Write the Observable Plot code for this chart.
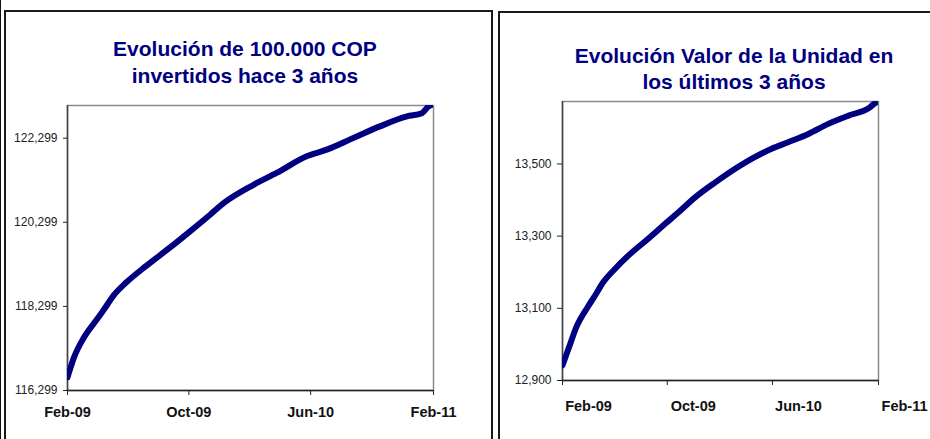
<!DOCTYPE html>
<html>
<head>
<meta charset="utf-8">
<script src="https://cdn.jsdelivr.net/npm/d3@7"></script>
<script src="https://cdn.jsdelivr.net/npm/@observablehq/plot@0.6"></script>
<style>
  html, body { margin: 0; padding: 0; background: #fff; }
  body { width: 930px; height: 439px; position: relative; overflow: hidden; font-family: "Liberation Sans", Arial, sans-serif; }
  .edge { position: absolute; left: 0; top: 0; width: 1px; height: 439px; background: #111; }
  .panel { position: absolute; box-sizing: border-box; border: 2px solid #1a1a1a; background: #fff; }
  .title { position: absolute; text-align: center; font-weight: bold; font-size: 21px; color: #000080; }
  .chart { position: absolute; }
</style>
</head>
<body>
<div class="edge"></div>
<div class="panel" style="left:4px; top:10px; width:489px; height:500px;"></div>
<div class="panel" style="left:498px; top:11px; width:520px; height:500px;"></div>
<div class="title" style="left:0px; width:490px; top:35px; line-height:27px;">Evolución de 100.000 COP<br>invertidos hace 3 años</div>
<div class="title" style="left:498px; width:472px; top:43px; line-height:26px;">Evolución Valor de la Unidad en<br>los últimos 3 años</div>
<div id="c1" class="chart" style="left:0px; top:90px;"></div>
<div id="c2" class="chart" style="left:470px; top:85px;"></div>
<script>
// ---- Data ----
const xTickDates = ["2009-02-01", "2009-10-01", "2010-06-01", "2011-02-01"];
const xTickLabels = ["Feb-09", "Oct-09", "Jun-10", "Feb-11"];

// Chart 1: Evolución de 100.000 COP invertidos hace 3 años
const dates1 = ["2009-02-01","2009-02-14","2009-03-04","2009-03-31","2009-04-13","2009-05-06","2009-05-29","2009-07-08","2009-08-24","2009-10-04","2009-11-13","2009-12-10","2010-02-08","2010-03-25","2010-05-24","2010-07-03","2010-08-25","2010-10-17","2010-12-10","2011-01-09","2011-01-22","2011-02-01"];
const values1 = [116614,117088,117524,117981,118195,118590,118866,119261,119695,120090,120486,120761,121197,121472,121868,122026,122302,122579,122816,122894,123053,123100];
const yTicks1 = [116299, 118299, 120299, 122299];
const yDomain1 = [116299, 123076];

// Chart 2: Evolución Valor de la Unidad en los últimos 3 años
const dates2 = ["2009-02-01","2009-02-16","2009-03-05","2009-04-01","2009-04-17","2009-05-06","2009-06-02","2009-07-03","2009-08-18","2009-09-26","2009-10-27","2009-12-05","2010-01-20","2010-03-06","2010-04-21","2010-05-30","2010-07-07","2010-08-23","2010-10-08","2010-11-24","2011-01-09","2011-01-25","2011-02-01"];
const values2 = [12942,12992,13048,13105,13135,13172,13209,13246,13293,13334,13366,13408,13449,13486,13519,13542,13560,13583,13611,13634,13654,13669,13673];
const yTicks2 = [12900, 13100, 13300, 13500];
const yDomain2 = [12900, 13673];

// ---- Build ----
const parse = s => new Date(s + "T00:00:00Z");
const tickDates = xTickDates.map(parse);
const labelMap = new Map(tickDates.map((d, i) => [+d, xTickLabels[i]]));
const xDomain = [tickDates[0], tickDates[tickDates.length - 1]];
const fmt = d3.format(",");

function makeChart(dates, values, yDomain, yTicks, opt) {
  const data = dates.map((d, i) => ({date: parse(d), value: values[i]}));
  return Plot.plot({
    width: opt.width,
    height: opt.height,
    marginLeft: opt.ml,
    marginRight: opt.mr,
    marginTop: opt.mt,
    marginBottom: opt.mb,
    style: {background: "none", overflow: "visible", maxWidth: "none", fontFamily: "'Liberation Sans', Arial, sans-serif", color: "#222"},
    x: {type: "utc", domain: xDomain},
    y: {domain: yDomain},
    marks: [
      Plot.frame({stroke: "#8a8a8a", strokeWidth: 1.5}),
      Plot.ruleX([xDomain[0]], {stroke: "#444", strokeWidth: 1.5}),
      Plot.ruleY([yDomain[0]], {stroke: "#222", strokeWidth: 1.5}),
      Plot.lineY(data, {x: "date", y: "value", stroke: "#000080", strokeWidth: 6, clip: true, curve: "monotone-x"}),
      Plot.axisX({ticks: tickDates, tickFormat: () => "", tickSize: 5, label: null}),
      Plot.axisX({ticks: tickDates, tickFormat: d => labelMap.get(+d), tickSize: 0, tickPadding: opt.xpad + 5, dx: opt.xdx, fontSize: 14.5, fontWeight: "bold", fill: "#111", label: null}),
      Plot.axisY({ticks: yTicks, tickFormat: fmt, tickSize: opt.ytick, tickPadding: 6, fontSize: 12, fill: "#222", label: null})
    ]
  });
}

document.getElementById("c1").append(makeChart(dates1, values1, yDomain1, yTicks1,
  {width: 470, height: 340, ml: 67, mr: 37, mt: 15, mb: 40, xpad: 11, xdx: 0, ytick: 4}));
document.getElementById("c2").append(makeChart(dates2, values2, yDomain2, yTicks2,
  {width: 460, height: 335, ml: 92, mr: 52, mt: 16, mb: 40, xpad: 15, xdx: 26, ytick: 5}));
</script>
</body>
</html>
